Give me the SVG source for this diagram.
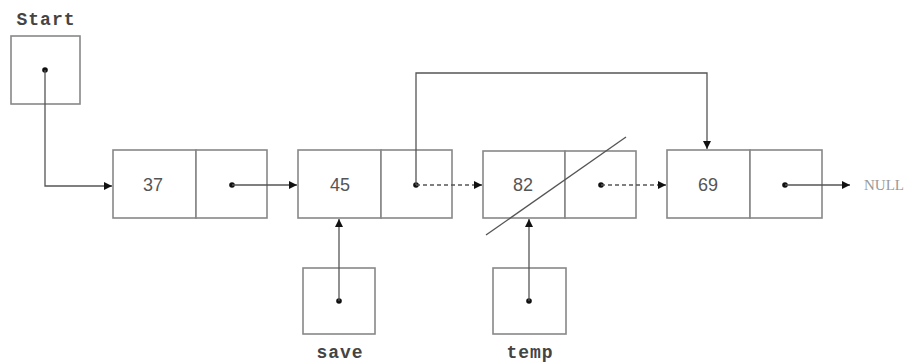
<svg xmlns="http://www.w3.org/2000/svg" width="908" height="364" viewBox="0 0 908 364">
<style>
.box{fill:#fff;stroke:#888;stroke-width:1.6}
.ln{fill:none;stroke:#555;stroke-width:1.3}
.dash{stroke-dasharray:4 3}
.dot{fill:#111}
.num{font-family:"Liberation Sans",Arial,sans-serif;font-size:18px;fill:#555;text-anchor:middle}
.lbl{font-family:"Liberation Mono","Courier New",monospace;font-size:18px;font-weight:bold;fill:#444;text-anchor:middle;letter-spacing:1px}
.nul{font-family:"Liberation Serif","Times New Roman",serif;font-size:15px;fill:#999}
</style>
<defs>
<marker id="ah" viewBox="0 0 10 10" refX="10" refY="5" markerWidth="8" markerHeight="8" markerUnits="userSpaceOnUse" orient="auto">
<path d="M0,0 L10,5 L0,10 z" fill="#111"/>
</marker>
</defs>
<rect width="908" height="364" fill="#fff"/>
<g id="start">
<text class="lbl" x="46" y="25">Start</text>
<rect class="box" x="11" y="36" width="69" height="68"/>
<circle class="dot" cx="45" cy="70" r="2.8"/>
</g>
<g id="n37">
<rect class="box" x="113" y="150" width="83" height="68"/>
<rect class="box" x="196" y="150" width="71" height="68"/>
<text class="num" x="153" y="191">37</text>
<circle class="dot" cx="232" cy="185" r="2.8"/>
</g>
<g id="n45">
<rect class="box" x="298" y="150" width="83" height="68"/>
<rect class="box" x="381" y="150" width="71" height="68"/>
<text class="num" x="340" y="191">45</text>
<circle class="dot" cx="416" cy="185" r="2.8"/>
</g>
<g id="n82">
<rect class="box" x="483" y="151" width="82" height="67"/>
<rect class="box" x="565" y="151" width="71" height="67"/>
<text class="num" x="523" y="191">82</text>
<circle class="dot" cx="601" cy="185" r="2.8"/>
</g>
<g id="n69">
<rect class="box" x="667" y="150" width="83" height="68"/>
<rect class="box" x="750" y="150" width="72" height="68"/>
<text class="num" x="708" y="191">69</text>
<circle class="dot" cx="785" cy="185" r="2.8"/>
<text class="nul" x="864" y="190">NULL</text>
</g>
<g id="save">
<rect class="box" x="303" y="268" width="72" height="66"/>
<circle class="dot" cx="339" cy="301" r="2.8"/>
<text class="lbl" x="340" y="358">save</text>
</g>
<g id="temp">
<rect class="box" x="493" y="268" width="73" height="66"/>
<circle class="dot" cx="529" cy="301" r="2.8"/>
<text class="lbl" x="530" y="358">temp</text>
</g>
<g id="connectors">
<polyline class="ln" points="45,70 45,186 112,186" marker-end="url(#ah)"/>
<line class="ln" x1="232" y1="185" x2="297" y2="185" marker-end="url(#ah)"/>
<line class="ln dash" x1="416" y1="185" x2="482" y2="185" marker-end="url(#ah)"/>
<line class="ln dash" x1="601" y1="185" x2="666" y2="185" marker-end="url(#ah)"/>
<line class="ln" x1="785" y1="185" x2="850" y2="185" marker-end="url(#ah)"/>
<polyline class="ln" points="416,185 416,73 707,73 707,149" marker-end="url(#ah)"/>
<line class="ln" x1="339" y1="301" x2="339" y2="219" marker-end="url(#ah)"/>
<line class="ln" x1="529" y1="301" x2="529" y2="219" marker-end="url(#ah)"/>
<line class="ln" stroke="#777" x1="486" y1="235" x2="626" y2="137"/>
</g>
</svg>
